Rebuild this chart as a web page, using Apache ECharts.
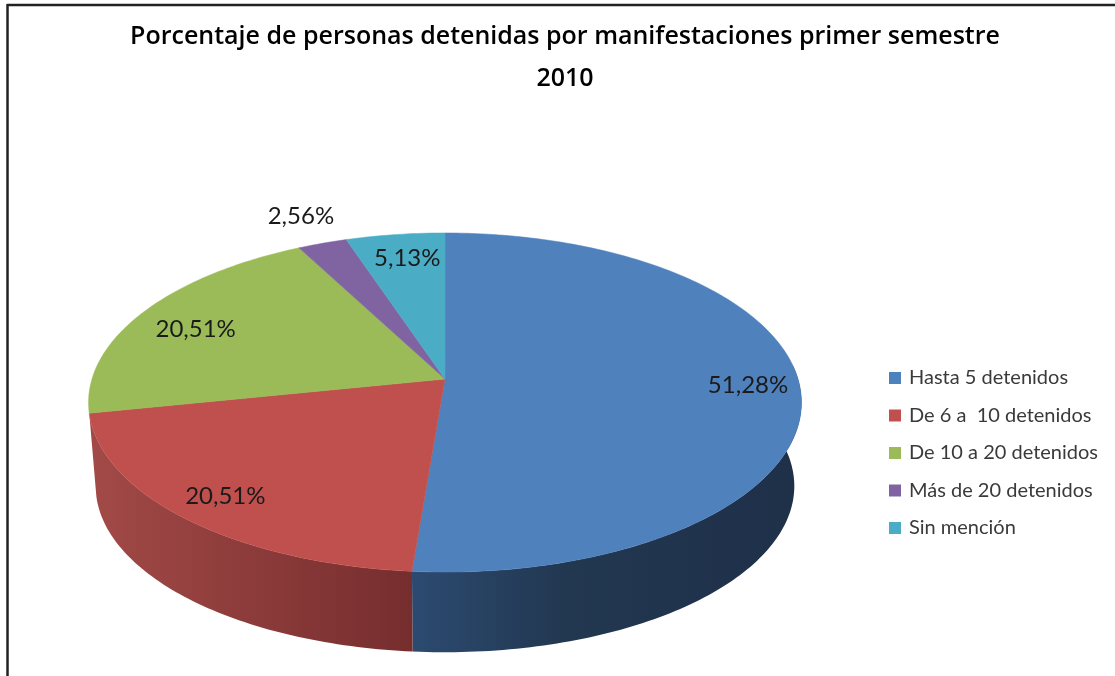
<!DOCTYPE html>
<html><head><meta charset="utf-8">
<style>html,body{margin:0;padding:0;background:#fff}#c{width:1115px;height:676px}</style>
<script src="https://cdn.jsdelivr.net/npm/echarts@6/dist/echarts.min.js"></script>
</head><body><div id="c"></div>
<script>
const categories = ['Hasta 5 detenidos','De 6 a  10 detenidos','De 10 a 20 detenidos','Más de 20 detenidos','Sin mención'];
const values = [51.28,20.51,20.51,2.56,5.13];
const colors = ['#4f81bd','#c0504d','#9bbb59','#8064a2','#4bacc6'];
const titleText = 'Porcentaje de personas detenidas por manifestaciones primer semestre\n2010';
const labelRadius = [0.855,0.855,0.82,1.22,0.82];
const labelNudge = [[0,0],[0,0],[0,6],[2,-1],[4,0]];

// Perspective view of the pie disc
const CX=445, CY=379, A=353, B=166.3, K=0.1387, DEPTH=84, BOTTOM_SCALE=0.98;
const total = values.reduce((a,b)=>a+b,0);
const project=(deg,r)=>{const t=deg*Math.PI/180,u=r*Math.sin(t),v=-r*Math.cos(t),w=1-K*v;return [CX+A*u/w,CY+B*v/w];};
const lower=p=>[CX+(p[0]-CX)*BOTTOM_SCALE,CY+(p[1]-CY)*BOTTOM_SCALE+DEPTH];
const arc=(a,b)=>{const n=Math.max(2,Math.ceil(Math.abs(b-a))),o=[];for(let i=0;i<=n;i++)o.push(project(a+(b-a)*i/n,1));return o;};
const wallFills=[
 {type:'linear',global:true,x:412,y:0,x2:800,y2:0,colorStops:[{offset:0,color:'#2c4a70'},{offset:.4,color:'#223750'},{offset:1,color:'#1f3049'}]},
 {type:'linear',global:true,x:90,y:0,x2:412,y2:0,colorStops:[{offset:0,color:'#a24a47'},{offset:1,color:'#762d2e'}]}
];
const label=v=>v.toFixed(2).replace('.',',')+'%';

const renderSlice=i=>(params,api)=>{
  const before=values.slice(0,i).reduce((a,b)=>a+b,0);
  const a0=before/total*360, a1=(before+api.value(0))/total*360;
  const children=[];
  const w0=Math.max(a0,85), w1=Math.min(a1,270);
  if(w1>w0 && wallFills[i]){
    const top=arc(w0,w1);
    children.push({type:'polygon',z2:1,shape:{points:top.concat(top.map(lower).reverse())},style:{fill:wallFills[i]}});
  }
  children.push({type:'polygon',z2:5,shape:{points:[[CX,CY]].concat(arc(a0,a1))},style:{fill:colors[i],stroke:colors[i],lineWidth:0.5}});
  const p=project((a0+a1)/2,labelRadius[i]);
  children.push({type:'text',z2:10,style:{text:label(api.value(0)),x:p[0]+labelNudge[i][0],y:p[1]+labelNudge[i][1],align:'center',verticalAlign:'middle',fontFamily:'Lato',fontSize:24,fill:'#1a1a1a'}});
  return {type:'group',children};
};

const chart=echarts.init(document.getElementById('c'),null,{renderer:'canvas'});
chart.setOption({
  animation:false,
  backgroundColor:'#fff',
  title:{text:titleText,left:565,top:16,padding:0,textAlign:'center',
    textStyle:{fontFamily:'Open Sans',fontWeight:600,fontSize:25,lineHeight:42,color:'#000'}},
  legend:{orient:'vertical',left:889,top:367,padding:0,itemWidth:12,itemHeight:12,itemGap:15.5,icon:'rect',
    data:categories,selectedMode:false,
    textStyle:{fontFamily:'Lato',fontSize:20,lineHeight:22,color:'#3a3a3a',padding:[0,0,0,3]}},
  graphic:[
    {type:'line',shape:{x1:7,y1:5,x2:1115,y2:5},style:{stroke:'#222',lineWidth:2.5},silent:true},
    {type:'line',shape:{x1:7.5,y1:4,x2:7.5,y2:676},style:{stroke:'#222',lineWidth:2.5},silent:true}
  ],
  series:categories.map((name,i)=>({type:'custom',name,coordinateSystem:'none',silent:true,
    itemStyle:{color:colors[i]},renderItem:renderSlice(i),data:[[values[i]]]}))
});
</script></body></html>
